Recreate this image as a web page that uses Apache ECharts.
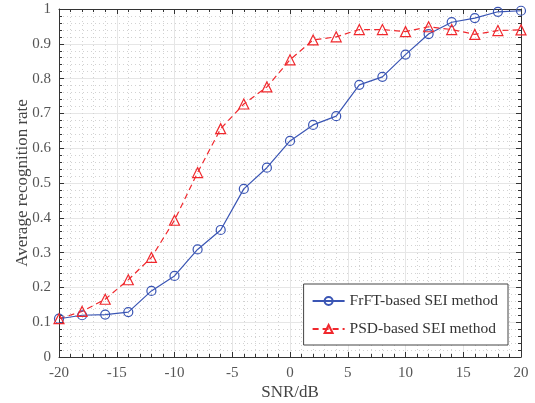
<!DOCTYPE html>
<html><head><meta charset="utf-8">
<script src="https://cdn.jsdelivr.net/npm/echarts@6/dist/echarts.min.js"></script>
<style>html,body{margin:0;padding:0;background:#fff}#c{width:535px;height:403px}</style>
</head><body><div id="c"></div>
<script>
var snr = [-20,-18,-16,-14,-12,-10,-8,-6,-4,-2,0,2,4,6,8,10,12,14,16,18,20];
var frftValues = [0.110,0.120,0.122,0.129,0.190,0.233,0.309,0.365,0.483,0.544,0.621,0.667,0.692,0.782,0.805,0.869,0.928,0.962,0.974,0.992,0.995];
var psdValues = [0.110,0.131,0.166,0.222,0.286,0.393,0.530,0.656,0.727,0.776,0.854,0.911,0.920,0.941,0.941,0.935,0.949,0.941,0.927,0.938,0.940];
var seriesNames = ['FrFT-based SEI method','PSD-based SEI method'];
var xLabel = 'SNR/dB', yLabel = 'Average recognition rate';

var font = 'Liberation Serif';
var blue = '#3a55b4', red = '#f0282d';
function pairs(v){ return snr.map(function(x,i){return [x,v[i]];}); }
function axisCommon(show){
  return {
    axisLine:{show:true,onZero:false,lineStyle:{color:'#333',width:1}},
    axisTick:{show:true,inside:true,length:5,lineStyle:{color:'#333'}},
    minorTick:{show:true,splitNumber:5,length:3,lineStyle:{color:'#333'}},
    splitLine:{show:show,lineStyle:{color:'#e6e6e6',width:1}},
    minorSplitLine:{show:show,lineStyle:{color:'#d2d2d2',type:[1,3],width:1}},
    axisLabel:{show:show,color:'#555',fontFamily:font,fontSize:15}
  };
}
var chart = echarts.init(document.getElementById('c'));
var xa = axisCommon(true), xb = axisCommon(false), ya = axisCommon(true), yb = axisCommon(false);
Object.assign(xa,{type:'value',min:-20,max:20,interval:5,position:'bottom',name:xLabel,nameLocation:'middle',nameGap:27,nameMoveOverlap:false,nameTextStyle:{color:'#444',fontFamily:font,fontSize:17}});
xa.axisLabel.margin=9;
Object.assign(xb,{type:'value',min:-20,max:20,interval:5,position:'top'});
Object.assign(ya,{type:'value',min:0,max:1,interval:0.1,position:'left',name:yLabel,nameLocation:'middle',nameGap:28,nameMoveOverlap:false,nameTextStyle:{color:'#444',fontFamily:font,fontSize:17}});
ya.axisLabel.margin=8;
ya.axisLabel.formatter=function(v){return v===0?'0':(v===1?'1':String(+v.toFixed(1)));};
Object.assign(yb,{type:'value',min:0,max:1,interval:0.1,position:'right'});
chart.setOption({
  animation:false,
  backgroundColor:'#fff',
  grid:{left:59,right:14,top:9,bottom:46,containLabel:false,outerBoundsMode:'none'},
  xAxis:[xa,xb],
  yAxis:[ya,yb],
  legend:{
    right:27,bottom:58,orient:'vertical',
    backgroundColor:'#fff',borderColor:'#444',borderWidth:1,
    padding:[9,10,8,8],itemGap:12,itemWidth:32,itemHeight:10,
    textStyle:{color:'#333',fontFamily:font,fontSize:15.5},
    data:seriesNames
  },
  series:[
    {name:seriesNames[0],type:'line',data:pairs(frftValues),xAxisIndex:0,yAxisIndex:0,
     color:blue,symbol:'circle',symbolSize:9,
     lineStyle:{color:blue,width:1.2},
     itemStyle:{color:'rgba(255,255,255,0)',borderColor:blue,borderWidth:1.2}},
    {name:seriesNames[1],type:'line',data:pairs(psdValues),xAxisIndex:0,yAxisIndex:0,
     color:red,symbol:'triangle',symbolSize:10,
     lineStyle:{color:red,width:1.2,type:[6,4]},
     itemStyle:{color:'rgba(255,255,255,0)',borderColor:red,borderWidth:1.2}}
  ]
});
</script></body></html>
